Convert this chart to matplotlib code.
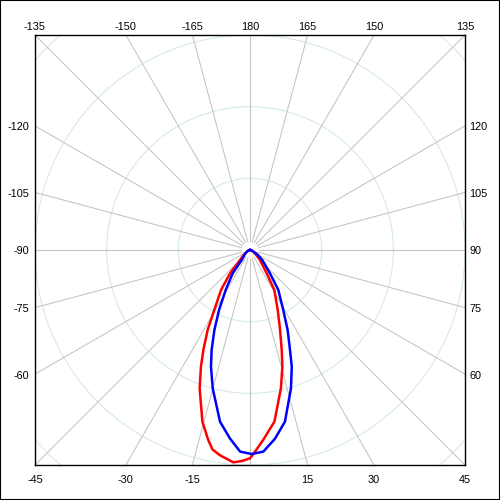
import numpy as np
import matplotlib
matplotlib.use('Agg')
import matplotlib.pyplot as plt
from matplotlib.patches import Circle, Rectangle

# angles in deg (0 = straight down, positive to the right), intensity with ring = 100
red_angles = [-90, -75, -60, -52, -45, -40.6, -35.9, -30.8, -27.9, -25, -22.8, -20,
              -15.5, -12.4, -10.7, -8.3, -4.5, -2.25, 0, 1.4, 4, 8.1, 12.6, 15.5,
              17.6, 20.6, 24.8, 31.3, 35.6, 45, 52, 60, 75, 90]
red_vals = [0, 2, 5.6, 11, 19.7, 42.8, 68.9, 97.4, 126.3, 154, 176.6, 205.4,
            248.6, 271.4, 283, 289.5, 297.2, 294.7, 290.7, 281.6, 265.5, 241.9, 197.7, 169,
            146.4, 119.2, 92.2, 65.3, 40, 19.7, 11, 5.6, 2, 0]

blue_angles = [-90, -75, -60, -50, -43, -39.7, -36.6, -31.3, -27.3, -24, -21, -18.5,
               -15.1, -9.9, -6.1, -2.8, 0.5, 3.8, 7.5, 11.5, 16.5, 19.7, 21.8, 25.2,
               29, 35.3, 40.6, 50.9, 60, 75, 90]
blue_vals = [0, 2, 5.6, 9.8, 14, 18.1, 40.5, 65.3, 94.2, 122.2, 149.4, 171.6,
             199.8, 243.2, 264.3, 281.7, 284.7, 281.9, 265.8, 244.5, 201.3, 172.9, 150.3, 123.3,
             95.7, 68.4, 42.8, 22.2, 11.2, 2.8, 0]

rings = [100, 200, 300, 400]
spoke_angles = np.arange(0, 360, 15)
label_angles = [-135, -150, -165, 180, 165, 150, 135,
                -120, -105, -90, -75, -60,
                120, 105, 90, 75, 60,
                -45, -30, -15, 15, 30, 45]

L = 300

fig = plt.figure(figsize=(5, 5), dpi=100)
ax = fig.add_axes([35/500, 35/500, 430/500, 430/500])
ax.set_xlim(-L, L)
ax.set_ylim(-L, L)
ax.set_aspect('equal')
ax.set_xticks([])
ax.set_yticks([])
for s in ax.spines.values():
    s.set_linewidth(1.0)
    s.set_color('black')

# grid
for r in rings:
    ax.add_patch(Circle((0, 0), r, fill=False, ec='#d4e9ee', lw=0.8, zorder=1))
for a in spoke_angles:
    t = np.radians(a)
    ax.plot([12*np.sin(t), 450*np.sin(t)], [-12*np.cos(t), -450*np.cos(t)],
            color='#c4c4c4', lw=0.75, zorder=1)

# curves
for ang, vals, col in [(red_angles, red_vals, '#ff0000'),
                       (blue_angles, blue_vals, '#0000ff')]:
    th = np.radians(ang)
    r = np.array(vals)
    ax.plot(r*np.sin(th), -r*np.cos(th), color=col, lw=1.8, zorder=3,
            solid_joinstyle='round')

# labels along the frame
for a in label_angles:
    t = np.radians(a)
    sx, sy = np.sin(t), -np.cos(t)
    k = L / max(abs(sx), abs(sy))
    px, py = k*sx, k*sy
    if abs(sy) >= abs(sx) - 1e-9:
        if sy > 0:
            off, ha, va = (0, 6), 'center', 'center'
        else:
            off, ha, va = (0, -10.5), 'center', 'center'
    elif sx < 0:
        off, ha, va = (-4, -1), 'right', 'center'
    else:
        off, ha, va = (3, -1), 'left', 'center'
    ax.annotate(str(a), xy=(px, py), xytext=off, textcoords='offset points',
                ha=ha, va=va, fontsize=7.8, family='Liberation Sans',
                annotation_clip=False)

fig.patches.append(Rectangle((0, 0), 1, 1, transform=fig.transFigure,
                             fill=False, ec='black', lw=1.5))

fig.savefig('out.png', dpi=100)
